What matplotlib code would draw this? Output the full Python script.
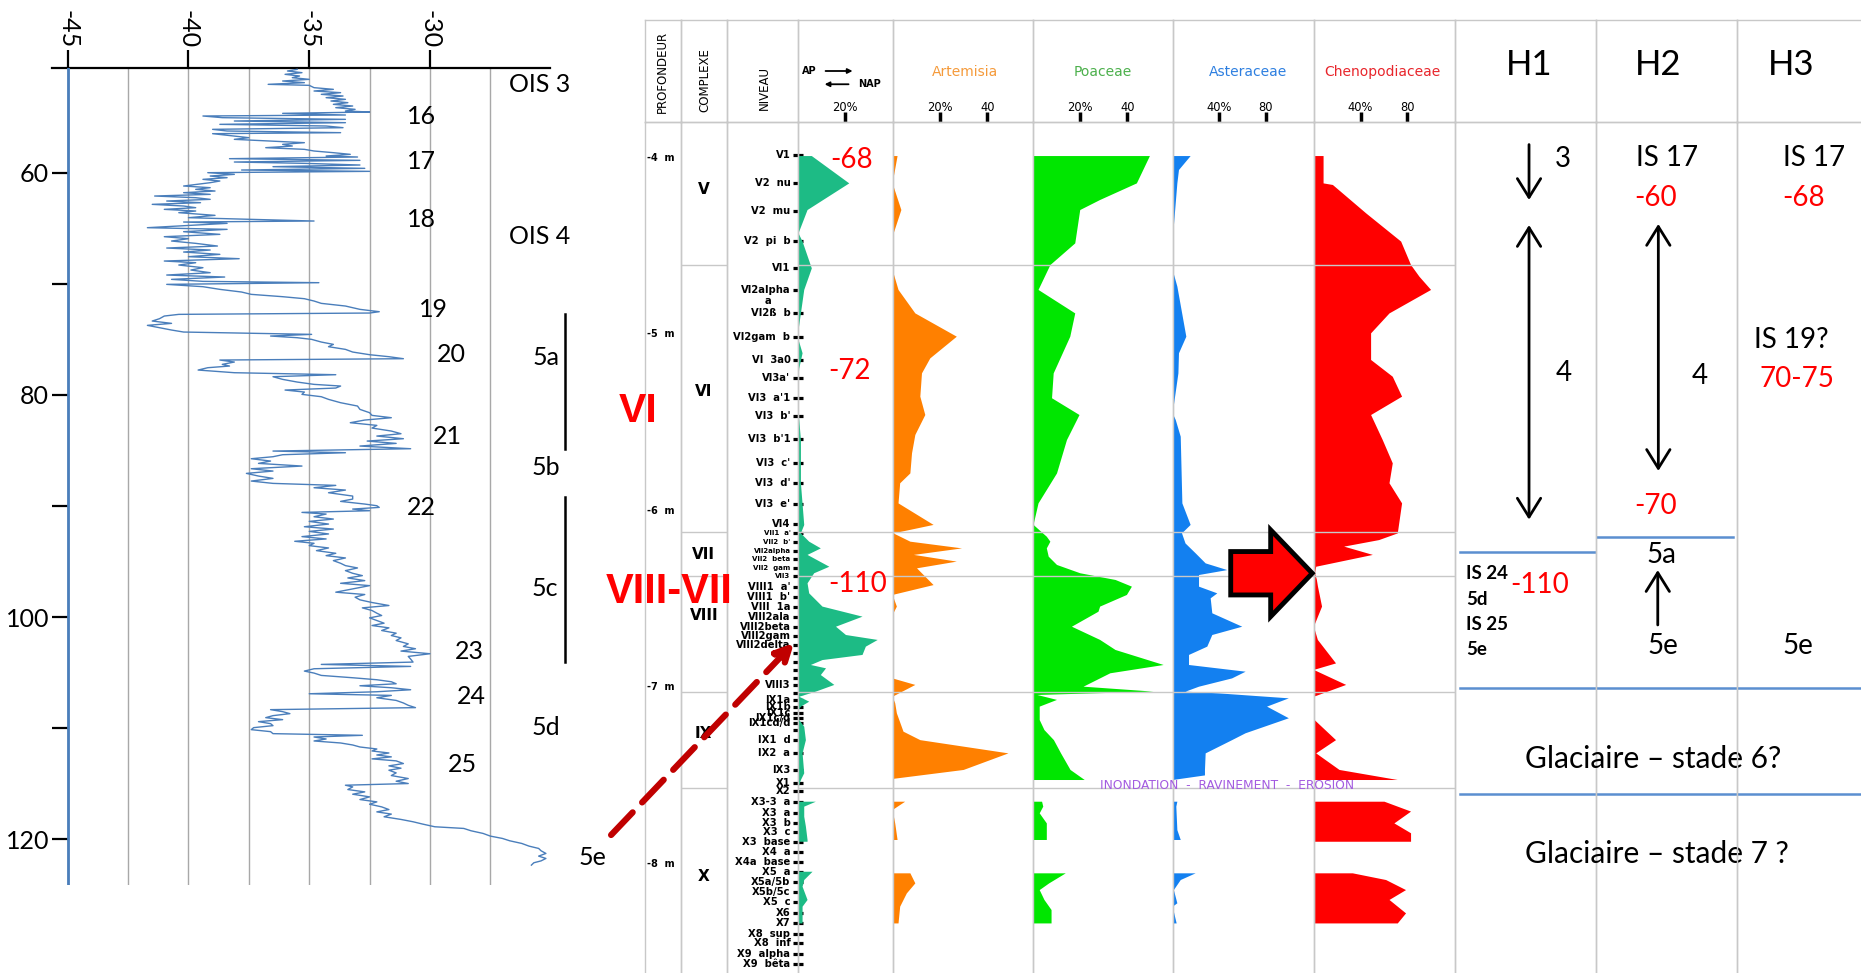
import numpy as np
import matplotlib
matplotlib.use("Agg")
import matplotlib.pyplot as plt
from matplotlib.patches import FancyArrow, ConnectionPatch

nan = np.nan

# ---------------- ice core curve (age ka / d18O) ----------------
ice_age = [
    50.70, 50.85, 51.00, 51.15, 51.30, 51.45, 51.60, 51.75, 51.90, 52.05,
    52.14, 52.35, 52.50, 52.65, 52.80, 52.95, 53.10, 53.25, 53.40, 53.55,
    53.70, 53.85, 54.00, 54.15, 54.30, 54.45, 54.54, 54.66, 54.81, 54.90,
    55.05, 55.20, 55.35, 55.50, 55.65, 55.80, 55.95, 56.10, 56.25, 56.40,
    56.49, 56.70, 56.85, 57.00, 57.15, 57.30, 57.45, 57.60, 57.75, 57.90,
    58.05, 58.20, 58.35, 58.50, 58.59, 58.74, 58.89, 59.04, 59.16, 59.31,
    59.46, 59.61, 59.76, 59.88, 60.00, 60.15, 60.30, 60.45, 60.60, 60.75,
    60.90, 61.20, 61.35, 61.50, 61.65, 61.80, 61.95, 62.10, 62.25, 62.40,
    62.55, 62.70, 62.85, 63.00, 63.15, 63.30, 63.45, 63.60, 63.84, 64.05,
    64.35, 64.44, 64.56, 64.80, 64.95, 65.10, 65.31, 65.55, 65.76, 65.94,
    66.15, 66.36, 66.60, 66.78, 66.96, 67.14, 67.35, 67.56, 67.74, 67.95,
    68.10, 68.31, 68.55, 68.76, 69.00, 69.21, 69.39, 69.60, 69.78, 69.90,
    70.05, 70.26, 70.50, 70.74, 70.95, 71.16, 71.34, 71.55, 71.76, 72.00,
    72.30, 72.51, 72.63, 72.75, 72.90, 73.14, 73.35, 73.56, 73.74, 73.95,
    74.16, 74.34, 74.55, 74.70, 74.85, 75.00, 75.24, 75.45, 75.66, 75.90,
    76.14, 76.38, 76.56, 76.74, 76.86, 77.04, 77.25, 77.40, 77.55, 77.76,
    78.00, 78.18, 78.36, 78.60, 78.84, 79.05, 79.20, 79.38, 79.56, 79.74,
    79.95, 80.16, 80.40, 80.70, 81.00, 81.30, 81.60, 81.84, 82.05, 82.26,
    82.50, 82.74, 82.98, 83.25, 83.49, 83.70, 83.94, 84.15, 84.36, 84.60,
    84.84, 85.05, 85.20, 85.38, 85.56, 85.74, 85.95, 86.16, 86.40, 86.64,
    86.85, 87.06, 87.30, 87.51, 87.75, 87.96, 88.14, 88.35, 88.56, 88.80,
    89.10, 89.37, 89.58, 89.82, 89.97, 90.12, 90.27, 90.42, 90.57, 90.72,
    90.96, 91.17, 91.38, 91.62, 91.86, 92.07, 92.28, 92.51, 92.75, 92.96,
    93.17, 93.35, 93.56, 93.77, 94.01, 94.25, 94.46, 94.67, 94.91, 95.15,
    95.36, 95.57, 95.81, 96.05, 96.26, 96.47, 96.71, 96.95, 97.16, 97.46,
    97.75, 97.96, 98.20, 98.44, 98.68, 98.95, 99.16, 99.40, 99.64, 99.85,
    100.06, 100.30, 100.54, 100.75, 100.96, 101.20, 101.44, 101.65, 101.86, 102.10,
    102.40, 102.63, 102.84, 103.05, 103.29, 103.53, 103.77, 104.04, 104.25, 104.43,
    104.64, 104.85, 105.03, 105.24, 105.45, 105.63, 105.81, 105.99, 106.17, 106.35,
    106.53, 106.71, 106.89, 107.04, 107.25, 107.49, 107.72, 107.93, 108.14, 108.32,
    108.50, 108.68, 108.86, 109.04, 109.22, 109.40, 109.58, 109.76, 109.94, 110.12,
    110.30, 110.48, 110.63, 110.78, 110.96, 111.14, 111.32, 111.50, 111.68, 111.86,
    112.04, 112.22, 112.40, 112.57, 112.75, 112.93, 113.17, 113.38, 113.59, 113.77,
    114.01, 114.25, 114.52, 114.76, 114.97, 115.12, 115.27, 115.51, 115.72, 115.93,
    116.17, 116.41, 116.62, 116.83, 117.07, 117.31, 117.52, 117.72, 117.96, 118.20,
    118.41, 118.62, 118.86, 119.01, 119.22, 119.46, 119.70, 119.91, 120.12, 120.36,
    120.60, 120.81, 121.02, 121.26, 121.50, 121.71, 121.93, 122.10, 122.31,
]
ice_d18o = [
    -35.5, -35.9, -35.3, -36.0, -35.4, -35.7, -35.0, -36.1, -35.2, -36.7,
    -35.0, -34.8, -34.0, -34.8, -33.7, -34.5, -33.6, -34.3, -33.5, -34.1,
    -33.4, -34.0, -33.2, -33.9, -33.1, -33.5, -32.5, -36.1, -33.5, -39.4,
    -38.6, -33.5, -38.1, -33.5, -38.7, -34.3, -33.6, -39.0, -38.4, -33.7,
    -39.0, -38.1, -37.5, -38.1, -36.6, -35.2, -36.1, -35.7, -36.8, -35.2,
    -34.8, -34.0, -33.3, -34.3, -33.0, -38.3, -32.9, -38.1, -35.2, -32.9,
    -36.5, -32.7, -37.8, -32.5, -39.2, -38.1, -39.1, -38.4, -39.4, -38.7,
    -39.1, -40.2, -39.1, -39.7, -38.9, -40.2, -39.1, -41.4, -39.7, -39.1,
    -40.9, -39.5, -41.5, -40.2, -39.7, -41.0, -39.7, -40.4, -38.9, -40.0,
    -34.8, -40.2, -38.4, -40.4, -41.7, -38.4, -40.2, -38.7, -41.0, -40.0,
    -40.7, -39.7, -38.8, -40.9, -39.1, -40.2, -38.7, -40.0, -37.9, -41.0,
    -39.7, -40.4, -39.4, -39.9, -39.1, -40.9, -38.5, -40.7, -39.4, -34.6,
    -40.9, -39.4, -38.7, -37.8, -37.4, -36.1, -35.2, -34.8, -34.5, -33.5,
    -32.9, -32.1, -32.5, -40.4, -41.0, -41.2, -41.5, -40.7, -41.7, -41.2,
    -40.7, -40.2, -34.9, -36.6, -35.5, -34.9, -34.5, -34.0, -34.2, -33.5,
    -33.2, -32.5, -31.7, -31.1, -38.7, -38.1, -38.6, -38.3, -39.2, -39.6,
    -38.1, -33.9, -36.5, -36.1, -35.5, -34.8, -33.7, -33.9, -36.0, -35.2,
    -35.3, -34.5, -34.2, -33.7, -33.0, -32.9, -32.5, -32.4, -31.6, -32.7,
    -33.3, -32.2, -32.4, -31.6, -31.2, -32.2, -31.1, -32.6, -31.4, -32.9,
    -30.8, -36.5, -33.5, -36.1, -36.5, -37.4, -36.6, -37.1, -35.3, -37.4,
    -36.5, -37.6, -37.1, -36.5, -37.4, -36.5, -33.9, -34.8, -33.5, -34.2,
    -33.2, -33.2, -33.7, -32.7, -32.2, -32.1, -33.2, -32.5, -35.3, -34.3,
    -34.8, -34.0, -35.0, -34.2, -35.2, -34.0, -35.0, -34.2, -35.3, -34.3,
    -35.6, -34.8, -35.0, -34.2, -34.7, -33.9, -34.3, -33.5, -34.0, -33.7,
    -33.5, -33.0, -33.5, -33.2, -32.8, -33.4, -32.7, -33.7, -32.5, -33.2,
    -33.9, -32.7, -33.1, -32.9, -32.4, -31.7, -32.8, -32.4, -32.2, -32.0,
    -32.5, -32.2, -31.9, -32.4, -31.7, -32.0, -31.4, -31.6, -31.2, -31.4,
    -30.9, -31.1, -30.6, -31.2, -30.0, -30.9, -30.8, -30.7, -34.5, -30.8,
    -34.8, -35.2, -34.8, -34.5, -33.2, -32.2, -31.6, -31.4, -32.9, -31.6,
    -30.8, -32.2, -35.0, -31.6, -32.2, -31.4, -31.1, -30.9, -30.6, -36.6,
    -36.1, -35.8, -36.5, -36.8, -36.1, -37.1, -36.6, -36.5, -37.3, -37.4,
    -36.6, -36.5, -32.8, -34.8, -34.3, -34.8, -33.7, -33.2, -32.9, -32.2,
    -32.4, -31.7, -32.2, -31.6, -32.4, -31.4, -31.1, -31.7, -31.2, -31.7,
    -31.4, -31.6, -30.9, -31.4, -30.9, -33.5, -33.2, -33.4, -32.7, -33.2,
    -32.5, -32.9, -32.2, -32.5, -32.0, -31.7, -32.2, -31.6, -31.9, -31.2,
    -30.7, -30.3, -29.8, -28.6, -28.3, -27.8, -27.5, -27.0, -26.7, -26.2,
    -25.9, -25.5, -25.4, -25.2, -25.5, -25.2, -25.4, -25.7, -25.8,
]

ice_labels = ['OIS 3', '16', '17', '18', 'OIS 4', '19', '20', '5a', '21', '5b',
              '22', '5c', '23', '24', '5d', '25', '5e']
ice_label_x = [-25.45, -30.34, -30.34, -30.34, -25.45, -29.85, -29.12, -25.2, -29.28, -25.2,
               -30.34, -25.23, -28.38, -28.3, -25.2, -28.66, -23.29]
ice_label_y = [52.1, 54.9, 58.95, 64.2, 65.75, 72.3, 76.4, 76.6, 83.75, 86.5,
               90.1, 97.4, 103.05, 107.1, 109.9, 113.3, 121.6]
substage_bars = [(72.7, 84.9), (89.2, 104.0)]

# ---------------- pollen diagram ----------------
depth_marks = [4, 5, 6, 7, 8]
complex_names = ['V', 'VI', 'VII', 'VIII', 'IX', 'X']
complex_mid = [4.181, 5.325, 6.245, 6.591, 7.265, 8.074]
complex_bounds = [4.607, 6.118, 6.37, 7.029, 7.57]

niveau_names = [
    "V1", "V2  nu", "V2  mu", "V2  pi  b", "VI1", "VI2alpha", "VI2ß  b", "VI2gam  b",
    "VI  3a0", "VI3a'", "VI3  a'1", "VI3  b'", "VI3  b'1", "VI3  c'", "VI3  d'", "VI3  e'",
    "VI4", "VII1  a'", "VII2  b'", "VII2alpha", "VII2  beta", "VII2  gam", "VII3",
    "VIII1  a'", "VIII1  b'", "VIII  1a", "VIII2ala", "VIII2beta", "VIII2gam", "VIII2delta",
    "", "", "", "", "VIII3", "", "IX1a", "IX1b", "IX1c", "IX1c/d", "IX1cd/d", "",
    "IX1  d", "IX2  a", "IX3", "X1", "X2", "X3-3  a", "X3  a", "X3  b", "X3  c",
    "X3  base", "X4  a", "X4a  base", "X5  a", "X5a/5b", "X5b/5c", "X5  c", "X6", "X7",
    "X8  sup", "X8  inf", "X9  alpha", "X9  bêta",
]
niveau_depth = [
    3.983, 4.140, 4.299, 4.470, 4.622, 4.748, 4.877, 5.017,
    5.145, 5.249, 5.359, 5.461, 5.593, 5.727, 5.844, 5.961,
    6.077, 6.124, 6.175, 6.226, 6.275, 6.322, 6.370,
    6.430, 6.487, 6.544, 6.604, 6.661, 6.710, 6.761,
    6.808, 6.855, 6.903, 6.950, 6.988, 7.035, 7.073, 7.110, 7.148, 7.176, 7.205, 7.243,
    7.299, 7.371, 7.469, 7.541, 7.587, 7.649, 7.715, 7.772, 7.819,
    7.876, 7.932, 7.989, 8.046, 8.103, 8.159, 8.216, 8.278, 8.339,
    8.399, 8.452, 8.512, 8.569,
]
niveau_small = ["VII1  a'", "VII2  b'", "VII2alpha", "VII2  beta", "VII2  gam", "VII3"]

ap_depth = [3.989, 4.144, 4.295, 4.427, 4.474, 4.626, 4.748, 4.881, 5.013, 5.107, 5.193,
            5.296, 5.41, 5.485, 5.599, 5.844, 6.08, 6.128, 6.175, 6.213, 6.25, 6.317,
            6.354, 6.411, 6.468, 6.543, 6.6, 6.657, 6.704, 6.732, 6.77, 6.817, 6.846,
            6.874, 6.893, 6.931, 6.987, 7.025, 7.054, 7.082, 7.11, 7.139, 7.186, 7.224,
            7.3, 7.375, 7.488, 7.526, 7.583, nan,
            7.649, 7.677, 7.734, 7.79, 7.866, 7.876, nan,
            8.046, 8.093, 8.131, 8.206, 8.244, 8.339]
ap_pct = [6, 21.8, 4.2, 0.4, 2.1, 6, 2.8, 1.4, 0, 2.1, 0.7,
          0, 0, 0.7, 1.4, 1.4, 2.8, 1.4, 4.9, 9.8, 4.2, 13.4,
          7, 4.2, 4.9, 10.5, 27.4, 16.2, 20.4, 33.8, 28.8, 27.4, 10.5,
          5.6, 12, 9.8, 15.5, 7.7, 0.7, 4.9, 1.4, 0, 0.7, 2.8,
          3.5, 2.1, 2.8, 1.4, 0, nan,
          7.7, 2.8, 2.8, 3.5, 4.2, 4.2, nan,
          6.3, 2.8, 2.1, 4.2, 2.1, 2.1]

art_depth = [3.989, 4.144, 4.295, 4.446, 4.635, 4.748, 4.881, 5.013, 5.136, 5.221, 5.353,
             5.457, 5.57, 5.674, 5.788, 5.844, 5.958, 6.08, 6.128, 6.175, 6.213, 6.25,
             6.288, 6.326, 6.421, 6.477, 6.543, 6.591, 6.95, 6.987, 7.054, 7.091, 7.148,
             7.252, 7.3, 7.375, 7.469, 7.52, nan,
             7.649, 7.696, 7.772, 7.866, nan,
             8.055, 8.112, 8.169, 8.244, 8.339]
art_pct = [2.1, 0, 3.7, 0, 0, 2.5, 9.6, 27.1, 15.9, 12.4, 11.7,
           13.8, 9.6, 8.2, 7.5, 3.2, 2.5, 17.3, 0.4, 7.5, 29.3, 9,
           27.1, 10.3, 17.3, 0, 1.8, 0, 0, 9.6, 0, 1.1, 1.8,
           4.6, 11.7, 48.9, 30, 0, nan,
           5.3, 0, 1.1, 2.1, nan,
           7.5, 9.6, 6, 3.2, 2.5]

poa_depth = [3.989, 4.144, 4.238, 4.295, 4.484, 4.607, 4.748, 4.881, 5.013, 5.221, 5.362,
             5.457, 5.599, 5.788, 5.958, 6.08, 6.147, 6.175, 6.213, 6.26, 6.307, 6.354,
             6.392, 6.43, 6.477, 6.543, 6.572, 6.657, 6.732, 6.789, 6.874, 6.921, 6.997,
             7.025, 7.044, 7.072, 7.11, 7.186, 7.243, 7.3, 7.375, 7.469, 7.526, nan,
             7.649, 7.677, 7.715, 7.772, 7.866, nan,
             8.055, 8.112, 8.15, 8.206, 8.263, 8.339]
poa_pct = [49.5, 44, 28.5, 20.1, 18, 7.5, 2.5, 18, 15.9, 8.9, 8.2,
           19.8, 14.5, 10.3, 2.5, 0.4, 6, 7.5, 6, 6.8, 10.3, 20.1,
           35, 41.9, 39.8, 28.5, 27.8, 16.6, 28.5, 35, 55.3, 32.8, 21.5,
           51, 2, 10.3, 3, 3, 5, 9, 12, 16, 22, nan,
           4, 4.5, 3, 6, 6, nan,
           14, 7, 3, 5, 8, 8]

ast_depth = [3.989, 4.068, 4.144, 4.465, 4.635, 4.729, 5.013, 5.107, 5.221, 5.448, 5.485,
             5.58, 5.958, 6.08, 6.128, 6.185, 6.241, 6.298, 6.336, 6.364, 6.43, 6.468,
             6.496, 6.581, 6.657, 6.704, 6.77, 6.817, 6.874, 6.912, 6.95, 6.997, 7.025,
             7.035, 7.063, 7.11, 7.176, 7.261, 7.3, 7.375, 7.469, 7.50, 7.526, nan,
             7.649, 7.677, 7.81, 7.866, nan,
             8.055, 8.093, 8.15, 8.225, 8.244, 8.301, 8.339]
ast_pct = [15.4, 5.4, 4, 0, 0, 4, 11.7, 5.4, 4.9, 0, 2.6,
           6.9, 8.3, 15.4, 8, 11, 19.7, 28.3, 46.9, 22.6, 22.6, 38.3,
           32.6, 34, 59.7, 34, 29.7, 14, 14, 62.6, 51, 22.6, 11.1,
           39.7, 99.7, 81, 99.7, 62.6, 51, 28.3, 27.7, 27.7, 0, nan,
           4, 3.1, 4, 6.9, nan,
           19.7, 6.9, 1, 4, 0, 2, 3.4]

che_depth = [3.989, 4.144, 4.153, 4.314, 4.474, 4.607, 4.673, 4.748, 4.881, 4.994, 5.145,
             5.24, 5.353, 5.457, 5.599, 5.731, 5.844, 5.958, 6.128, 6.166, 6.203, 6.25,
             6.317, 6.354, 6.39, 6.43, 6.543, 6.657, 6.732, 6.865, 6.902, 6.987, 7.054,
             7.186, 7.3, 7.375, 7.469, 7.526, nan,
             7.649, 7.705, 7.772, 7.828, 7.876, nan,
             8.055, 8.093, 8.15, 8.206, 8.282, 8.339]
che_pct = [8.3, 8.3, 16.3, 44.9, 74.9, 83.4, 90.6, 100.6, 64.9, 49.1, 49.1,
           67.7, 75.7, 49.1, 59.1, 67.7, 64.9, 75.7, 72, 56, 26, 50.6,
           2, 1, 2.5, 3.5, 7, 0, 3.4, 19, 0, 27.7, 0,
           0.6, 19, 2, 22, 72, nan,
           60.6, 83.4, 69.1, 83.4, 83.4, nan,
           33.4, 62, 79.1, 64.9, 79.1, 72]

# ---------------- layout (pixels of the 1861x973 picture) ----------------
FIG_W, FIG_H = 1861, 973
GRID = '#C8C8C8'
CAL = 'Lato'
fig = plt.figure(figsize=(FIG_W / 100, FIG_H / 100), dpi=100)


def px_axes(x0, y0, x1, y1):
    return fig.add_axes([x0 / FIG_W, 1 - y1 / FIG_H, (x1 - x0) / FIG_W, (y1 - y0) / FIG_H])


# ---- ice core panel ----
ax_ice = px_axes(52, 68, 550, 885)
ax_ice.set_facecolor('none')
ax_ice.set_xlim(-45.65, -25.03)
ax_ice.set_ylim(124.1, 50.58)
for s in ['left', 'right', 'bottom']:
    ax_ice.spines[s].set_visible(False)
ax_ice.spines['top'].set_linewidth(1.6)
ax_ice.xaxis.tick_top()
ax_ice.set_xticks([-45, -40, -35, -30])
ax_ice.set_xticks([-42.5, -37.5, -32.5, -27.5], minor=True)
ax_ice.set_xticklabels(['-45', '-40', '-35', '-30'], rotation=-90, fontsize=18, family=CAL)
ax_ice.tick_params(axis='x', which='major', length=13, width=1.6, pad=1)
ax_ice.tick_params(axis='x', which='minor', length=0)
ax_ice.grid(axis='x', which='both', color='#A8A8A8', lw=1)
ax_ice.set_yticks([60, 70, 80, 90, 100, 110, 120])
ax_ice.set_yticklabels(['60', '', '80', '', '100', '', '120'], fontsize=18, family=CAL)
ax_ice.tick_params(axis='y', direction='in', length=11.5, width=1.6, pad=2)
ax_ice.axvline(-45, color='#4A7EBB', lw=2, zorder=3)
ax_ice.plot(ice_d18o, ice_age, color='#4A7EBB', lw=1.0, zorder=4)
for t, x, y in zip(ice_labels, ice_label_x, ice_label_y):
    ax_ice.text(x, y, t, fontsize=18, family=CAL, ha='center', va='center', clip_on=False)
for y0, y1 in substage_bars:
    ax_ice.plot([-24.42, -24.42], [y0, y1], color='black', lw=1.8, clip_on=False)

# ---- table columns ----
col_edges = [644.5, 681, 726.5, 797.6, 892.6, 1032.6, 1172.7, 1313.9, 1455, 1596, 1736.7, 1861]
col_keys = ['prof', 'comp', 'niv', 'ap', 'art', 'poa', 'ast', 'che', 'h1', 'h2', 'h3']
px_per_pct = {'ap': 2.37, 'art': 2.37, 'poa': 2.37, 'ast': 1.165, 'che': 1.165}
head, body = {}, {}
for k, x0, x1 in zip(col_keys, col_edges[:-1], col_edges[1:]):
    hx = px_axes(x0, 20, x1, 122)
    bx = px_axes(x0, 122, x1, 973)
    for ax in (hx, bx):
        ax.set_facecolor('none')
        ax.set_xticks([])
        ax.set_yticks([])
        for sp in ax.spines.values():
            sp.set_color(GRID)
            sp.set_linewidth(1)
    bx.spines['bottom'].set_visible(False)
    if k == 'h3':
        hx.spines['right'].set_visible(False)
        bx.spines['right'].set_visible(False)
    xmax = (x1 - x0) / px_per_pct[k] if k in px_per_pct else 1
    hx.set_xlim(0, xmax)
    bx.set_xlim(0, xmax)
    hx.set_ylim(0, 1)
    bx.set_ylim(8.62, 3.796)
    head[k], body[k] = hx, bx

# headers
head['prof'].text(0.5, 0.49, 'PROFONDEUR', rotation=90, ha='center', va='center', fontsize=8.5)
head['comp'].text(0.53, 0.41, 'COMPLEXE', rotation=90, ha='center', va='center', fontsize=8.5)
head['niv'].text(0.53, 0.33, 'NIVEAU', rotation=90, ha='center', va='center', fontsize=8.5)

hap = head['ap']
hap.text(1.7, 0.50, 'AP', fontsize=7, fontweight='bold', va='center')
hap.annotate('', xy=(23.2, 0.50), xytext=(11.8, 0.50),
             arrowprops=dict(arrowstyle='-|>', lw=1.3, color='black', mutation_scale=7,
                             shrinkA=0, shrinkB=0))
hap.annotate('', xy=(11.4, 0.37), xytext=(21.5, 0.37),
             arrowprops=dict(arrowstyle='-|>', lw=1.3, color='black', mutation_scale=7,
                             shrinkA=0, shrinkB=0))
hap.text(25.7, 0.37, 'NAP', fontsize=7, fontweight='bold', va='center')

taxa = [('ap', None, None, '#1DBB85', [20], ['20%'], ap_depth, ap_pct),
        ('art', 'Artemisia', 30.5, '#F59A3A', [20, 40], ['20%', '40'], art_depth, art_pct),
        ('poa', 'Poaceae', 29.7, '#4CB04C', [20, 40], ['20%', '40'], poa_depth, poa_pct),
        ('ast', 'Asteraceae', 64.6, '#2D7FE0', [40, 80], ['40%', '80'], ast_depth, ast_pct),
        ('che', 'Chenopodiaceae', 59, '#E8252B', [40, 80], ['40%', '80'], che_depth, che_pct)]
fill_colors = {'ap': '#1DBB85', 'art': '#FF8000', 'poa': '#00E600', 'ast': '#1380F0', 'che': '#FF0000'}
for k, name, xc, tcol, ticks, tlabels, dep, pct in taxa:
    hx, bx = head[k], body[k]
    if name:
        hx.text(xc, 0.49, name, color=tcol, fontsize=10, ha='center', va='center')
    hx.set_xticks(ticks)
    hx.tick_params(axis='x', direction='in', length=7, width=2.5, color='black',
                   labelbottom=False)
    for t, lab in zip(ticks, tlabels):
        hx.text(t, 0.14, lab, fontsize=8.3, ha='center', va='center')
    bx.fill_betweenx(np.array(dep), 0, np.array(pct), color=fill_colors[k], lw=0, zorder=2)

# complex boundary lines
for k in ['comp', 'ap', 'art', 'poa', 'ast', 'che']:
    for d in complex_bounds:
        body[k].axhline(d, color=GRID, lw=1, zorder=3)

# profondeur / complexe / niveau
bp = body['prof']
bp.set_zorder(5)
for d in depth_marks:
    bp.text(0.45, d, '-%d  m' % d, fontsize=7, fontweight='bold', ha='center', va='center')
bp.text(-0.18, 5.436, 'VI', color='red', fontsize=29.5, fontweight='bold',
        family='Liberation Sans', ha='center', va='center')
bp.text(0.67, 6.459, 'VIII-VII', color='red', fontsize=30, fontweight='bold',
        family='Liberation Sans', ha='center', va='center')

for n, d in zip(complex_names, complex_mid):
    body['comp'].text(0.5, d, n, fontsize=11, fontweight='bold', ha='center', va='center')

bn = body['niv']
bn.yaxis.tick_right()
bn.set_yticks(niveau_depth)
bn.tick_params(axis='y', direction='inout', length=7, width=2.3, color='black', labelright=False)
for n, d in zip(niveau_names, niveau_depth):
    small = n in niveau_small
    bn.text(0.9, d, n, fontsize=5 if small else 7.2, fontweight='bold', ha='right', va='center')
bn.text(0.59, 4.809, 'a', fontsize=7.2, fontweight='bold', ha='center', va='center')

# red values in the AP column
for txt, x, d in [('-68', 22.8, 4.011), ('-72', 21.9, 5.21), ('-110', 25.3, 6.415)]:
    body['ap'].text(x, d, txt, color='red', fontsize=20, family=CAL, ha='center', va='center')

bast = body['ast']
bast.set_zorder(4)
bast.text(47, 7.558, 'INONDATION  -  RAVINEMENT  -  EROSION', color='#A35BE0', fontsize=8.8,
          ha='center', va='center', zorder=12)
bast.add_patch(FancyArrow(49.8, 6.354, 70.0, 0, width=0.246, head_width=0.491, head_length=35.7,
                          length_includes_head=True, facecolor='#FF0000', edgecolor='black',
                          linewidth=3.5, zorder=15, clip_on=False))

# ---- H1 / H2 / H3 columns ----
for k, x in [('h1', 0.525), ('h2', 0.44), ('h3', 0.437)]:
    head[k].text(x, 0.56, k.upper(), fontsize=25, family=CAL, ha='center', va='center')

BLUE = '#5B8FD0'


def varrow(ax, x, d_tail, d_head, style):
    ax.annotate('', xy=(x, d_head), xytext=(x, d_tail),
                arrowprops=dict(arrowstyle=style + ',head_length=0.45,head_width=0.28',
                                lw=2, color='black', mutation_scale=30, shrinkA=0, shrinkB=0))


def label(ax, x, d, txt, color='black', size=20, **kw):
    ax.text(x, d, txt, color=color, fontsize=size, family=CAL, ha=kw.pop('ha', 'center'),
            va='center', **kw)


h1, h2, h3 = body['h1'], body['h2'], body['h3']
varrow(h1, 0.525, 3.924, 4.238, '->')
varrow(h1, 0.525, 4.38, 6.05, '<->')
label(h1, 0.768, 4.006, '3')
label(h1, 0.768, 5.219, '4')
h1.axhline(6.232, xmin=0.035, xmax=1, color=BLUE, lw=1.8)
for t, d in [('IS 24', 6.354), ('5d', 6.502), ('IS 25', 6.642), ('5e', 6.789)]:
    label(h1, 0.078, d, t, size=13.5, ha='left', fontweight='bold')
label(h1, 0.603, 6.42, '-110', color='red')

label(h2, 0.502, 4.0, 'IS 17')
label(h2, 0.426, 4.224, '-60', color='red')
varrow(h2, 0.443, 4.374, 5.774, '<->')
label(h2, 0.734, 5.234, '4')
label(h2, 0.426, 5.975, '-70', color='red')
h2.axhline(6.147, xmin=0, xmax=0.976, color=BLUE, lw=1.8)
label(h2, 0.467, 6.25, '5a')
varrow(h2, 0.439, 6.647, 6.336, '->')
label(h2, 0.474, 6.766, '5e')

label(h3, 0.622, 4.0, 'IS 17')
label(h3, 0.536, 4.224, '-68', color='red')
label(h3, 0.437, 5.032, 'IS 19?')
label(h3, 0.483, 5.255, '70-75', color='red')
label(h3, 0.496, 6.766, '5e')

for d in [7.006, 7.605]:
    h1.axhline(d, xmin=0.035, xmax=1, color=BLUE, lw=1.8)
    h2.axhline(d, color=BLUE, lw=1.8)
    h3.axhline(d, color=BLUE, lw=1.8)
label(h2, 0.407, 7.409, 'Glaciaire – stade 6?', size=21.5)
label(h2, 0.431, 7.946, 'Glaciaire – stade 7 ?', size=21.5)

# dashed link from the ice core 5e to level VIII2delta
link = ConnectionPatch(xyA=(-22.5, 119.6), coordsA=ax_ice.transData,
                       xyB=(0.95, 6.749), coordsB=bn.transData,
                       arrowstyle='-|>', mutation_scale=26, lw=4.5, color='#C00000',
                       linestyle=(0, (5, 2.2)), shrinkA=0, shrinkB=0, zorder=20)
fig.add_artist(link)

fig.savefig('out.png', dpi=100, facecolor='white')
